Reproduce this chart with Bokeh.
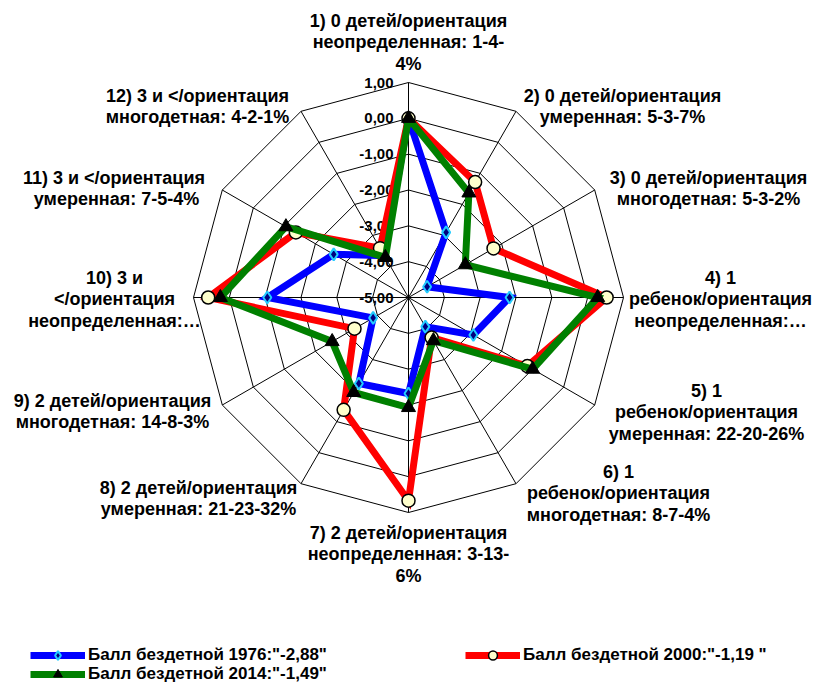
import numpy as np
from bokeh.plotting import figure
from bokeh.models import Range1d, Legend, LegendItem
from bokeh.core.properties import value
from bokeh.embed import file_html
from bokeh.resources import INLINE

# ---------------- data ----------------
categories = [
    "1) 0 детей/ориентация\nнеопределенная: 1-4-\n4%",
    "2) 0 детей/ориентация\nумеренная: 5-3-7%",
    "3) 0 детей/ориентация\nмногодетная: 5-3-2%",
    "4) 1\nребенок/ориентация\nнеопределенная:…",
    "5) 1\nребенок/ориентация\nумеренная: 22-20-26%",
    "6) 1\nребенок/ориентация\nмногодетная: 8-7-4%",
    "7) 2 детей/ориентация\nнеопределенная: 3-13-\n6%",
    "8) 2 детей/ориентация\nумеренная: 21-23-32%",
    "9) 2 детей/ориентация\nмногодетная: 14-8-3%",
    "10) 3 и\n</ориентация\nнеопределенная:…",
    "11) 3  и </ориентация\nумеренная: 7-5-4%",
    "12) 3 и </ориентация\nмногодетная: 4-2-1%",
]
tick_values = [1, 0, -1, -2, -3, -4, -5]
tick_labels = ["1,00", "0,00", "-1,00", "-2,00", "-3,00", "-4,00", "-5,00"]

score_1976 = [0.0, -2.90, -4.40, -2.18, -2.91, -4.06, -2.32, -2.23, -3.86, -1.06, -2.59, -3.65]
score_2000 = [0.0, -1.28, -2.26, 0.53, -1.17, -3.71, 0.67, -1.38, -3.26, 0.59, -1.37, -3.41]
score_2014 = [0.0, -1.63, -3.17, 0.28, -1.00, -3.61, -1.93, -1.94, -2.54, 0.25, -1.05, -3.71]

series_names = ['Балл бездетной 1976:"-2,88"', 'Балл бездетной 2000:"-1,19 "', 'Балл бездетной 2014:"-1,49"']

# ---------------- layout ----------------
R_MIN, R_MAX = -5.0, 1.0
CX, CY = 408.0, 297.0          # page px of centre
S = 215.0 / (R_MAX - R_MIN)    # px per unit
W, H = 825, 682
FONT = "Liberation Sans"

def P(px, py):
    return (px - CX) / S, (CY - py) / S

n = len(categories)
angles = np.pi / 2 - np.arange(n) * 2 * np.pi / n

def polar(vals):
    r = np.asarray(vals, dtype=float) - R_MIN
    return r * np.cos(angles), r * np.sin(angles)

x0, _ = P(0, 0)
x1, _ = P(W, 0)
_, y1 = P(0, 0)
_, y0 = P(0, H)

p = figure(width=W, height=H, output_backend="svg", toolbar_location=None,
           x_range=Range1d(x0, x1), y_range=Range1d(y0, y1),
           min_border=0, outline_line_color=None)
p.axis.visible = False
p.grid.visible = False
p.background_fill_color = "white"
p.border_fill_color = "white"

# grid rings
ring_xs, ring_ys = [], []
for tv in tick_values[:-1]:
    gx, gy = polar([tv] * n)
    ring_xs.append(list(gx) + [gx[0]])
    ring_ys.append(list(gy) + [gy[0]])
p.multi_line(ring_xs, ring_ys, line_color="black", line_width=1)
# spokes
ox, oy = polar([R_MAX] * n)
p.multi_line([[0, ox[i]] for i in range(n)], [[0, oy[i]] for i in range(n)],
             line_color="black", line_width=1)

# tick labels
tx = [P(393, 0)[0]] * len(tick_values)
ty = [v - R_MIN for v in tick_values]
p.text(tx, ty, text=tick_labels, text_align="right", text_baseline="middle",
       text_font=value(FONT), text_font_style="bold", text_font_size="15px",
       text_color="black")

# category labels
label_pos = [(408, 20), (622, 95), (708, 177), (720, 277), (706, 390), (618, 471),
             (408, 532), (198, 487), (112, 400), (114, 277), (116, 177), (197, 95)]
LINE = 21.5
lx, ly, lt = [], [], []
for cat, (px, py) in zip(categories, label_pos):
    for k, line in enumerate(cat.split("\n")):
        a, b = P(px, py + k * LINE)
        lx.append(a); ly.append(b); lt.append(line)
p.text(lx, ly, text=lt, text_align="center", text_baseline="middle",
       text_font=value(FONT), text_font_style="bold", text_font_size="18px",
       text_color="black")

# series
def closed(a):
    return list(a) + [a[0]]

styles = [
    dict(color="#0000FF", marker="diamond", fill="#000080", mline="#22CCFF", size=12, mlw=2),
    dict(color="#FF0000", marker="circle", fill="#FFFFCC", mline="black", size=13, mlw=1.5),
    dict(color="#008000", marker="triangle", fill="black", mline="black", size=14, mlw=1),
]
items = []
for vals, st, name in zip([score_1976, score_2000, score_2014], styles, series_names):
    sx, sy = polar(vals)
    lr = p.line(closed(sx), closed(sy), line_color=st["color"], line_width=7, line_join="miter")
    mr = p.scatter(sx, sy, marker=st["marker"], size=st["size"], fill_color=st["fill"],
                   line_color=st["mline"], line_width=st["mlw"])
    items.append(LegendItem(label=name, renderers=[lr, mr]))

common = dict(background_fill_alpha=0, border_line_alpha=0, padding=0, margin=0,
              spacing=0, glyph_width=55, glyph_height=22, label_height=22,
              label_standoff=3, label_text_font=FONT, label_text_font_style="bold",
              label_text_font_size="17px", label_text_color="black",
              label_text_baseline="middle")
legend_locs = [(30, 16), (465, 16), (30, -3)]
for it, loc in zip(items, legend_locs):
    p.add_layout(Legend(items=[it], location=loc, orientation="vertical", **common), "center")

open("out.html", "w").write(file_html(p, INLINE))
